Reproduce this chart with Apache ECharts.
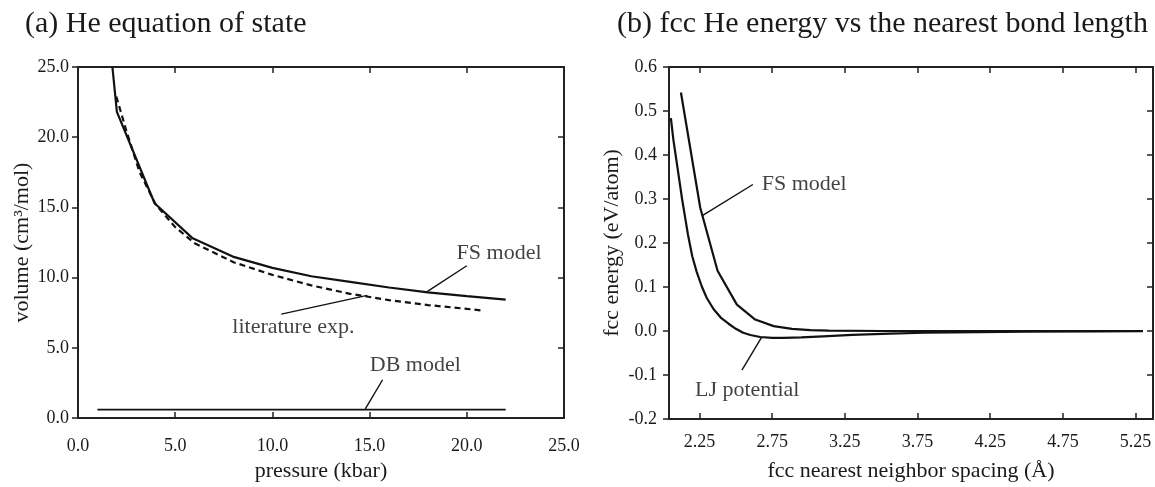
<!DOCTYPE html>
<html>
<head>
<meta charset="utf-8">
<title>He equation of state / fcc He energy</title>
<script src="https://cdn.jsdelivr.net/npm/echarts@6/dist/echarts.min.js"></script>
<style>
  html, body { margin: 0; padding: 0; background: #fff; }
  #chart { width: 1155px; height: 487px; }
</style>
</head>
<body>
<div id="chart"></div>
<script>
// (a) He equation of state, [pressure (kbar), volume (cm3/mol)]
const fsEos = [
  [1.77, 25.0], [2.0, 21.8], [3.94, 15.3], [5.9, 12.8], [7.96, 11.5],
  [10.0, 10.7], [12.0, 10.1], [14.0, 9.7], [16.0, 9.3], [18.0, 8.95],
  [20.0, 8.68], [22.0, 8.44]
]
const litEos = [
  [1.97, 22.9], [2.5, 20.4], [3.17, 17.5], [4.0, 15.2], [5.0, 13.6],
  [6.0, 12.45], [8.0, 11.1], [10.0, 10.2], [12.0, 9.45], [14.0, 8.85],
  [16.0, 8.4], [18.0, 8.05], [20.0, 7.78], [20.8, 7.66]
]
const dbEos = [[1.0, 0.6], [22.0, 0.6]]

// (b) fcc He energy, [nearest neighbor spacing (A), energy (eV/atom)]
const fsEnergy = [
  [2.122, 0.542], [2.255, 0.28], [2.374, 0.137], [2.507, 0.060],
  [2.633, 0.026], [2.76, 0.011], [2.886, 0.005], [3.013, 0.002],
  [3.14, 0.001], [3.5, 0.0], [4.0, 0.0], [4.5, 0.0], [5.0, 0.0], [5.3, 0.0]
]
const ljEnergy = [
  [2.053, 0.484], [2.07, 0.435], [2.09, 0.39], [2.11, 0.345], [2.13, 0.30],
  [2.15, 0.26], [2.17, 0.22], [2.2, 0.17], [2.23, 0.135], [2.267, 0.10],
  [2.3, 0.075], [2.346, 0.05], [2.4, 0.029], [2.45, 0.0165], [2.5, 0.005],
  [2.55, -0.004], [2.6, -0.009], [2.667, -0.0136], [2.75, -0.0155],
  [2.828, -0.0158], [2.95, -0.0145], [3.1, -0.012], [3.3, -0.009],
  [3.56, -0.006], [3.8, -0.004], [4.0, -0.003], [4.5, -0.0015],
  [5.0, -0.0008], [5.3, -0.0005]
]
const spacingTicks = [2.25, 2.75, 3.25, 3.75, 4.25, 4.75, 5.25]

// callouts (data coordinates)
const eosLeaders = [
  [[20.0, 10.85], [17.9, 8.95]],
  [[10.46, 7.40], [14.88, 8.74]],
  [[15.67, 2.73], [14.78, 0.66]]
]
const eosLabels = [
  { name: 'FS model', value: [21.66, 11.77] },
  { name: 'literature exp.', value: [11.08, 6.48] },
  { name: 'DB model', value: [17.35, 3.8] }
]
const energyLeaders = [
  [[2.617, 0.333], [2.2665, 0.2615]],
  [[2.5416, -0.0891], [2.679, -0.0136]]
]
const energyLabels = [
  { name: 'FS model', value: [2.97, 0.333] },
  { name: 'LJ potential', value: [2.578, -0.135] }
]

const serif = "'Liberation Serif', 'Times New Roman', serif"
const ink = '#111'

function axis (o) {
  const showLabel = o.label !== false
  return Object.assign({
    type: 'value',
    scale: true,
    splitLine: { show: false },
    axisLine: { show: true, onZero: false, lineStyle: { color: '#222', width: 2 } },
    axisTick: { show: true, inside: !o.outside, length: 6, lineStyle: { color: '#222', width: 1.5 } },
    axisLabel: {
      show: showLabel,
      fontFamily: serif,
      fontSize: 18,
      color: '#1a1a1a',
      margin: o.margin || 10,
      formatter: v => v.toFixed(o.digits || 1)
    },
    nameTextStyle: { fontFamily: serif, fontSize: 22, color: '#1a1a1a' },
    nameLocation: 'middle'
  }, o.extra)
}

function leaderSeries (segs, xi, yi) {
  return segs.map(seg => ({
    type: 'line',
    xAxisIndex: xi,
    yAxisIndex: yi,
    data: seg,
    showSymbol: false,
    silent: true,
    lineStyle: { color: ink, width: 1.4 }
  }))
}

function labelSeries (items, xi, yi) {
  return {
    type: 'scatter',
    xAxisIndex: xi,
    yAxisIndex: yi,
    data: items,
    symbolSize: 1,
    silent: true,
    itemStyle: { color: 'rgba(0,0,0,0)' },
    label: {
      show: true,
      position: 'inside',
      formatter: p => p.name,
      fontFamily: serif,
      fontSize: 22,
      color: ink
    }
  }
}

const chart = echarts.init(document.getElementById('chart'))

chart.setOption({
  animation: false,
  backgroundColor: '#fff',
  title: [
    { text: '(a) He equation of state', left: 20, top: 4,
      textStyle: { fontFamily: serif, fontSize: 30, fontWeight: 'normal', color: '#1a1a1a' } },
    { text: '(b) fcc He energy vs the nearest bond length', left: 612, top: 4,
      textStyle: { fontFamily: serif, fontSize: 30, fontWeight: 'normal', color: '#1a1a1a' } }
  ],
  grid: [
    { left: 78, right: 591, top: 67, bottom: 65 },
    { left: 669, right: 2, top: 67, bottom: 65 }
  ],
  xAxis: [
    axis({ margin: 19, extra: { gridIndex: 0, position: 'bottom', min: 0, max: 25, interval: 5,
      name: 'pressure (kbar)', nameGap: 41 } }),
    axis({ label: false, extra: { gridIndex: 0, position: 'top', min: 0, max: 25, interval: 5 } }),
    axis({ digits: 2, margin: 14, extra: { gridIndex: 1, position: 'bottom', min: 2.04, max: 5.37,
      name: 'fcc nearest neighbor spacing (Å)', nameGap: 41 } }),
    axis({ label: false, extra: { gridIndex: 1, position: 'top', min: 2.04, max: 5.37 } })
  ],
  yAxis: [
    axis({ outside: true, margin: 9, extra: { gridIndex: 0, position: 'left', min: 0, max: 25, interval: 5,
      name: 'volume (cm³/mol)', nameGap: 45 } }),
    axis({ label: false, extra: { gridIndex: 0, position: 'right', min: 0, max: 25, interval: 5 } }),
    axis({ outside: true, margin: 12, extra: { gridIndex: 1, position: 'left', min: -0.2, max: 0.6, interval: 0.1,
      name: 'fcc energy (eV/atom)', nameGap: 46 } }),
    axis({ label: false, extra: { gridIndex: 1, position: 'right', min: -0.2, max: 0.6, interval: 0.1 } })
  ],
  series: [
    { type: 'line', name: 'FS model', xAxisIndex: 0, yAxisIndex: 0, data: fsEos,
      showSymbol: false, lineStyle: { color: ink, width: 2.2 } },
    { type: 'line', name: 'literature exp.', xAxisIndex: 0, yAxisIndex: 0, data: litEos,
      showSymbol: false, lineStyle: { color: ink, width: 2.2, type: [6, 4] } },
    { type: 'line', name: 'DB model', xAxisIndex: 0, yAxisIndex: 0, data: dbEos,
      showSymbol: false, lineStyle: { color: ink, width: 1.6 } },
    ...leaderSeries(eosLeaders, 0, 0),
    labelSeries(eosLabels, 0, 0),
    { type: 'line', name: 'FS model', xAxisIndex: 2, yAxisIndex: 2, data: fsEnergy,
      showSymbol: false, lineStyle: { color: ink, width: 2.2 } },
    { type: 'line', name: 'LJ potential', xAxisIndex: 2, yAxisIndex: 2, data: ljEnergy,
      showSymbol: false, lineStyle: { color: ink, width: 2.2 } },
    ...leaderSeries(energyLeaders, 2, 2),
    labelSeries(energyLabels, 2, 2)
  ]
})

// the spacing axis has its ticks at 2.25 + 0.5k, not from min
chart.setOption({
  xAxis: [{}, {}, {
    axisTick: { customValues: spacingTicks },
    axisLabel: { customValues: spacingTicks }
  }, {
    axisTick: { customValues: spacingTicks }
  }]
})
</script>
</body>
</html>
